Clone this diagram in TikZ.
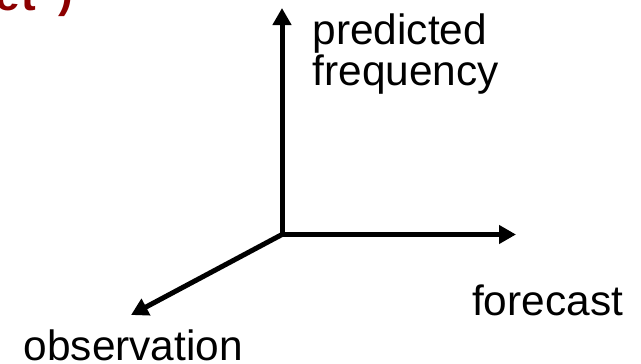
\documentclass[tikz,border=0pt]{standalone}
\usepackage{fontspec}
\setmainfont{Liberation Sans}
\usetikzlibrary{arrows.meta}
\definecolor{titlered}{RGB}{140,0,0}
\tikzset{
  axis/.style={line width=5pt, line cap=rect, -{Triangle[length=17pt,width=18pt]}},
  axlabel/.style={inner sep=0pt, anchor=base west, font=\fontsize{42.4}{38.5}\selectfont, align=left},
  titletext/.style={inner sep=0pt, anchor=base west, text=titlered, font=\fontsize{44}{48}\selectfont\bfseries}
}
\begin{document}
\begin{tikzpicture}[x=1pt,y=-1pt]
\useasboundingbox (0,0) rectangle (641,364);
\coordinate (O) at (282,234.5);
\coordinate (up) at (282,8);
\coordinate (right) at (516,234.5);
\coordinate (down) at (131,315);
\draw[axis] (O) -- (up);
\draw[axis] (O) -- (right);
\draw[axis] (O) -- (down);
\node[axlabel] (pf) at (312.5,85) {predicted\\frequency};
\node[axlabel] (fc) at (472,315) {forecast};
\node[axlabel] (ob) at (23.5,360) {observation};
\node[titletext] (title) at (-5,10) {e\kern2pt t\kern22pt\raisebox{3pt}{)}};
\end{tikzpicture}
\end{document}
